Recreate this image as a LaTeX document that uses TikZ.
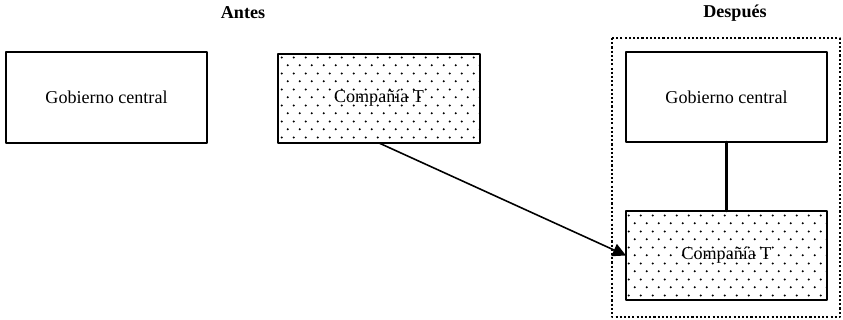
\documentclass[tikz,border=0pt]{standalone}
\usepackage{fontspec}
\setmainfont{Liberation Serif}
\usepackage{tikz}
\usetikzlibrary{arrows.meta,patterns}

\pgfdeclarepatternformonly{sparsedots}{\pgfpointorigin}{\pgfpoint{6.8pt}{9pt}}{\pgfpoint{6.8pt}{9pt}}{%
  \pgfpathcircle{\pgfpoint{1pt}{1pt}}{0.65pt}%
  \pgfpathcircle{\pgfpoint{4.4pt}{5.5pt}}{0.65pt}%
  \pgfusepath{fill}}

\tikzset{
  entidad/.style={draw,line width=1.5pt,minimum width=4.02cm,minimum height=1.8cm,
    inner sep=0pt,outer sep=0pt,font=\fontsize{10.3}{12}\selectfont},
  punteada/.style={entidad,pattern=sparsedots},
  titulo/.style={font=\fontsize{10.3}{12}\selectfont\bfseries}
}

\begin{document}
\begin{tikzpicture}[line cap=round,line join=round,x=0.02cm,y=-0.02cm,
  >={Triangle[length=7.5pt,width=7.5pt]}]
		\useasboundingbox (0,0) rectangle (843,320);
		\draw [line width=1.6pt,dash pattern=on 1.2pt off 1.2pt,line cap=butt] (612,38) rectangle (840,317);
		\node[titulo] (antes) at (243,13) {Antes};
		\node[titulo] (despues) at (735,13) {Después};
		\node[entidad,minimum height=1.82cm] (gob1) at (106.5,97.5) {Gobierno central};
		\node[punteada,minimum width=4.04cm,minimum height=1.78cm] (cia1) at (379,98.5) {Compañía T};
		\node[entidad] (gob2) at (726.5,97) {Gobierno central};
		\node[punteada,minimum height=1.78cm] (cia2) at (726.5,255.5) {Compañía T};
		\draw [line width=1.4pt] (gob2) -- (cia2);
		\draw [->,line width=0.9pt] (cia1.south) -- (cia2.west);
\end{tikzpicture}
\end{document}
